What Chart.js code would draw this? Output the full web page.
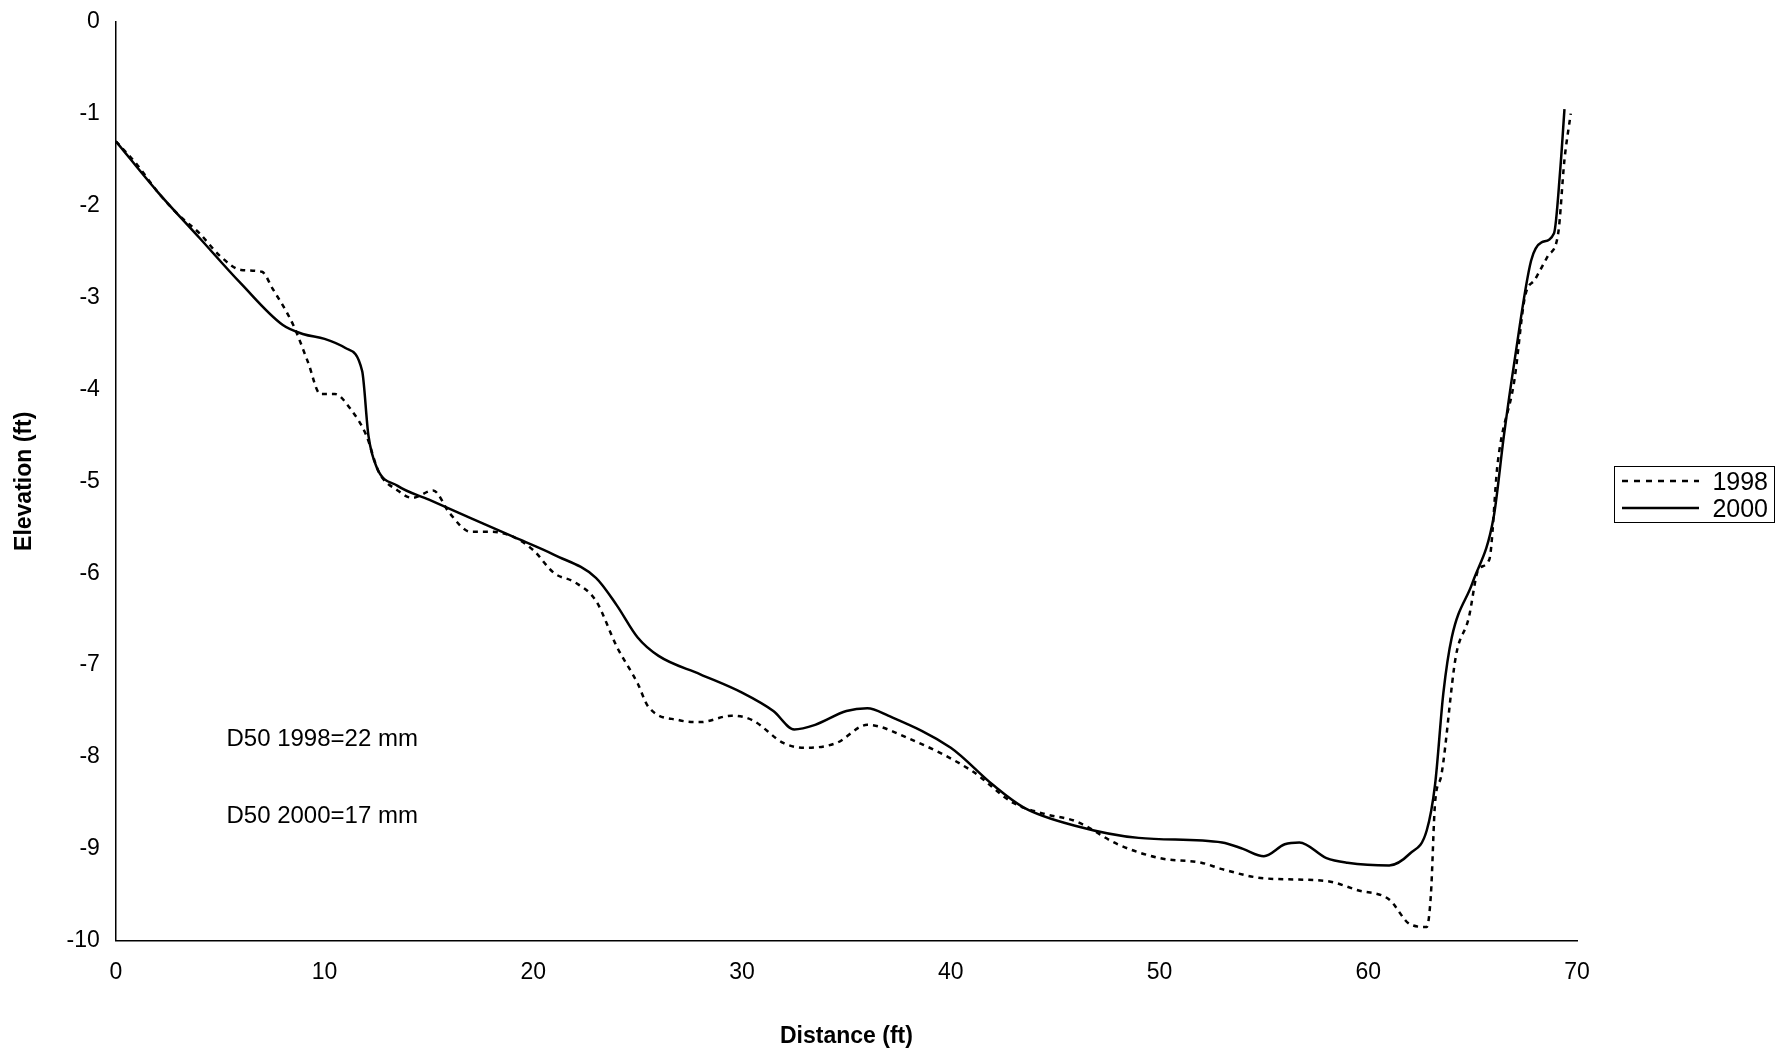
<!DOCTYPE html>
<html>
<head>
<meta charset="utf-8">
<script src="https://cdn.jsdelivr.net/npm/chart.js@4"></script>
<style>
  html, body { margin: 0; padding: 0; background: #fff; }
  #wrap { width: 1788px; height: 1058px; }
</style>
</head>
<body>
<div id="wrap"><canvas id="chart"></canvas></div>
<script>
// Survey data (distance ft, elevation ft)
const dist1998 = [0,1,2,3,4,5,6,7,7.5,8.5,9.2,9.8,10.5,11.2,12,12.6,13.5,14.2,15.2,16,17,18,19,20,21,22,23,24,25,25.5,27,28,29.5,30.5,32,33,34.5,36,38,41,43,44.5,46,48,50,52,53,55,58,59.5,61,62,62.8,63,63.2,63.5,64.2,64.8,65.3,65.8,66.2,67,67.5,68,68.6,69.1,69.4,69.7];
const elev1998 = [-1.3,-1.55,-1.85,-2.1,-2.3,-2.55,-2.7,-2.72,-2.9,-3.3,-3.7,-4.05,-4.05,-4.2,-4.5,-4.9,-5.1,-5.18,-5.1,-5.35,-5.55,-5.55,-5.6,-5.75,-6.0,-6.1,-6.3,-6.8,-7.2,-7.45,-7.6,-7.62,-7.55,-7.6,-7.85,-7.9,-7.85,-7.65,-7.8,-8.15,-8.5,-8.62,-8.7,-8.95,-9.1,-9.15,-9.22,-9.32,-9.35,-9.45,-9.55,-9.82,-9.85,-9.5,-8.5,-8.2,-6.9,-6.5,-5.95,-5.85,-4.8,-3.9,-3.0,-2.8,-2.55,-2.3,-1.5,-1.0];
const dist2000 = [0,2,4,6,8,9,10,11,11.8,12.1,12.5,13.5,15,17,19,21,23,24,25,26,28,30,31.5,32.5,33.5,35,36,37,40,42,43.5,46,49,53,54,55,56,56.7,58,59,61,62,62.8,63.2,63.6,64,65,66,66.5,67,67.8,68.3,68.9,69.2,69.4];
const elev2000 = [-1.3,-1.85,-2.35,-2.85,-3.3,-3.4,-3.45,-3.55,-3.8,-4.5,-4.85,-5.05,-5.2,-5.4,-5.6,-5.8,-6.05,-6.35,-6.7,-6.9,-7.1,-7.3,-7.5,-7.7,-7.65,-7.5,-7.47,-7.55,-7.9,-8.3,-8.55,-8.75,-8.88,-8.93,-9.0,-9.08,-8.95,-8.93,-9.1,-9.15,-9.18,-9.05,-8.8,-8.3,-7.3,-6.7,-6.1,-5.4,-4.5,-3.7,-2.6,-2.4,-2.3,-1.6,-0.95];
const seriesNames = ['1998', '2000'];
const notes = ['D50 1998=22 mm', 'D50 2000=17 mm'];
const noteX = [5.3, 5.3];
const noteY = [-7.81, -8.65];

const FONT = 'Liberation Sans, Arial, sans-serif';
const toPts = (xs, ys) => xs.map((x, i) => ({ x: x, y: ys[i] }));

// Text notes + boxed legend on the right
const extras = {
  id: 'extras',
  afterDraw(chart) {
    const { ctx, scales } = chart;
    ctx.save();
    ctx.fillStyle = '#000';
    ctx.font = '24px ' + FONT;
    ctx.textBaseline = 'middle';
    ctx.textAlign = 'left';
    notes.forEach((t, i) => {
      ctx.fillText(t, scales.x.getPixelForValue(noteX[i]), scales.y.getPixelForValue(noteY[i]));
    });
    // legend
    const lx = 1614, ly = 466, lw = 160, lh = 56;
    ctx.strokeStyle = '#000';
    ctx.lineWidth = 1;
    ctx.strokeRect(lx + 0.5, ly + 0.5, lw, lh);
    ctx.font = '25px ' + FONT;
    ctx.textAlign = 'right';
    seriesNames.forEach((n, i) => {
      const y = ly + 15 + i * 27;
      ctx.lineWidth = 2.5;
      ctx.setLineDash(i === 0 ? [6, 6] : []);
      ctx.beginPath();
      ctx.moveTo(lx + 8, y);
      ctx.lineTo(lx + 85, y);
      ctx.stroke();
      ctx.setLineDash([]);
      ctx.fillText(n, lx + lw - 6, y + 2);
    });
    ctx.restore();
  }
};

new Chart(document.getElementById('chart'), {
  type: 'line',
  data: {
    datasets: [
      {
        label: seriesNames[0],
        data: toPts(dist1998, elev1998),
        borderColor: '#000',
        borderWidth: 2.5,
        borderDash: [5, 5],
        pointRadius: 0,
        cubicInterpolationMode: 'monotone',
        fill: false
      },
      {
        label: seriesNames[1],
        data: toPts(dist2000, elev2000),
        borderColor: '#000',
        borderWidth: 2.5,
        pointRadius: 0,
        cubicInterpolationMode: 'monotone',
        fill: false
      }
    ]
  },
  plugins: [extras],
  options: {
    responsive: true,
    maintainAspectRatio: false,
    animation: false,
    layout: { padding: { top: 0, right: 211, left: 7, bottom: 4 } },
    plugins: { legend: { display: false }, tooltip: { enabled: false } },
    scales: {
      x: {
        type: 'linear',
        min: 0, max: 70,
        ticks: { stepSize: 10, color: '#000', font: { family: FONT, size: 23 }, padding: 10 },
        grid: { display: false, drawTicks: true, tickLength: 8, tickColor: '#000' },
        border: { color: '#000', width: 1.5 },
        title: { display: true, text: 'Distance (ft)', color: '#000', font: { family: FONT, size: 23, weight: 'bold' }, padding: { top: 26 } }
      },
      y: {
        type: 'linear',
        min: -10, max: 0,
        ticks: { stepSize: 1, color: '#000', font: { family: FONT, size: 23 }, padding: 8 },
        grid: { display: false, drawTicks: true, tickLength: 8, tickColor: '#000' },
        border: { color: '#000', width: 1.5 },
        title: { display: true, text: 'Elevation (ft)', color: '#000', font: { family: FONT, size: 23, weight: 'bold' }, padding: { bottom: 20 } }
      }
    }
  }
});
</script>
</body>
</html>
